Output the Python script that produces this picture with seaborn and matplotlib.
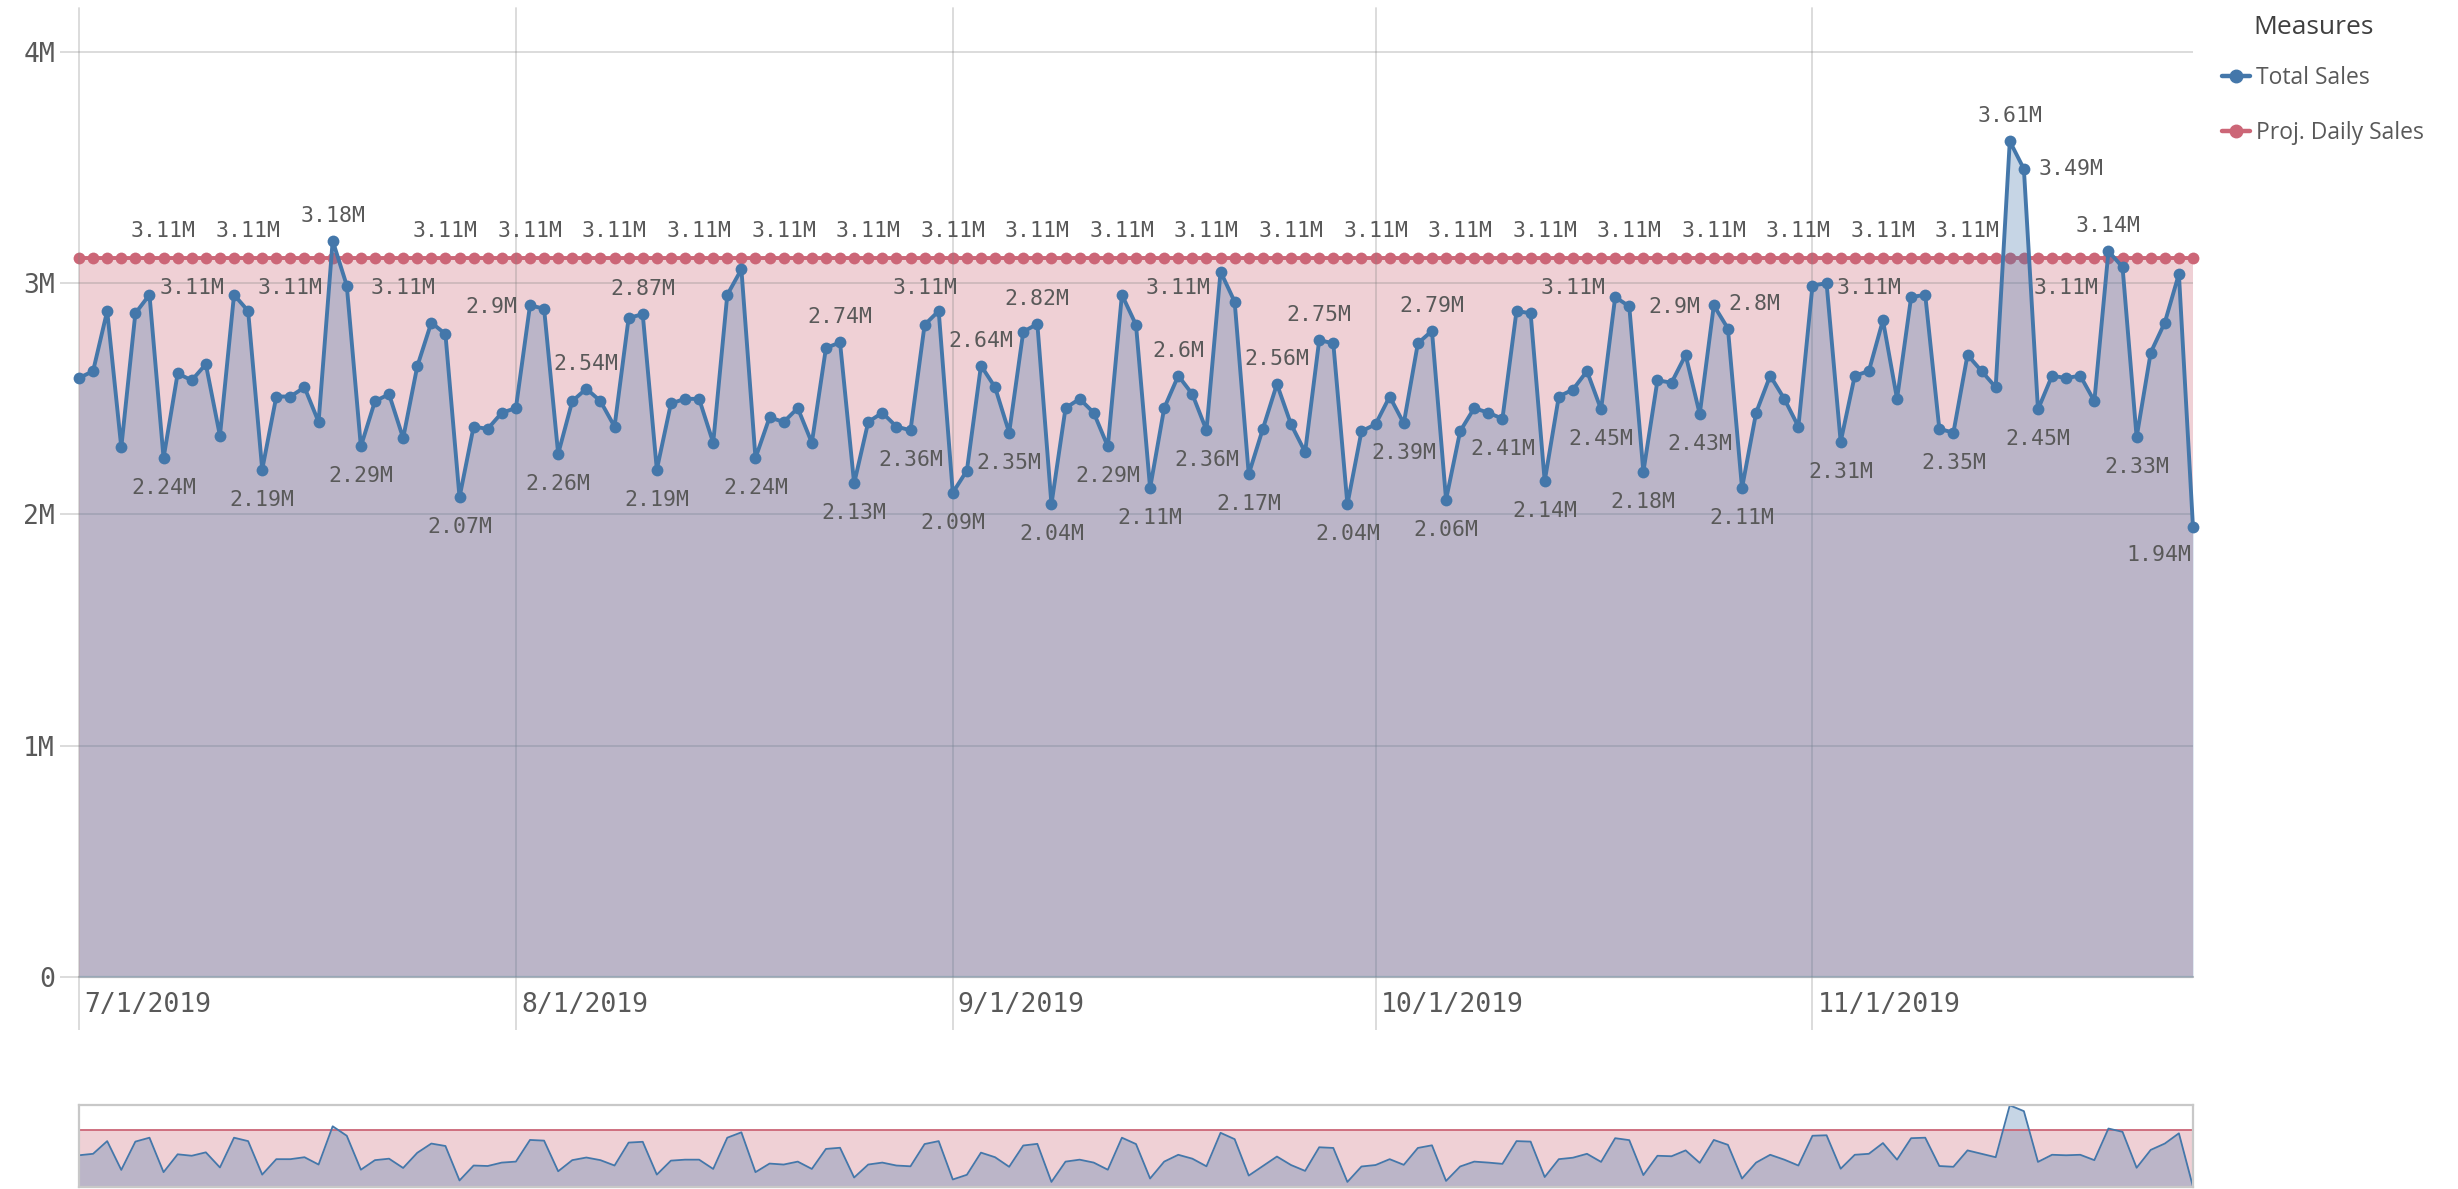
import numpy as np
import pandas as pd
import matplotlib
matplotlib.use("Agg")
import matplotlib.pyplot as plt
from matplotlib.lines import Line2D
from matplotlib.transforms import ScaledTranslation
import seaborn as sns

# ---- data (millions) ----
start_date = "2019-07-01"
total_sales = [
    2.59, 2.62, 2.88, 2.29, 2.87, 2.95, 2.244, 2.61, 2.58, 2.65,
    2.34, 2.95, 2.88, 2.194, 2.51, 2.51, 2.55, 2.40, 3.184, 2.99,
    2.294, 2.49, 2.52, 2.33, 2.64, 2.83, 2.78, 2.074, 2.38, 2.37,
    2.44, 2.46, 2.904, 2.89, 2.262, 2.49, 2.544, 2.49, 2.38, 2.85,
    2.866, 2.194, 2.48, 2.50, 2.50, 2.31, 2.95, 3.06, 2.244, 2.42,
    2.40, 2.46, 2.31, 2.72, 2.744, 2.134, 2.40, 2.44, 2.38, 2.364,
    2.82, 2.88, 2.094, 2.19, 2.644, 2.55, 2.354, 2.79, 2.824, 2.044,
    2.46, 2.50, 2.44, 2.294, 2.95, 2.82, 2.114, 2.46, 2.60, 2.52,
    2.364, 3.05, 2.92, 2.174, 2.37, 2.564, 2.39, 2.27, 2.754, 2.74,
    2.044, 2.36, 2.39, 2.51, 2.394, 2.74, 2.794, 2.064, 2.36, 2.46,
    2.44, 2.414, 2.88, 2.87, 2.144, 2.51, 2.54, 2.62, 2.454, 2.94,
    2.90, 2.184, 2.58, 2.57, 2.69, 2.434, 2.904, 2.804, 2.114, 2.44,
    2.60, 2.50, 2.38, 2.99, 3.00, 2.314, 2.60, 2.62, 2.84, 2.50,
    2.94, 2.95, 2.37, 2.354, 2.69, 2.62, 2.55, 3.614, 3.494, 2.454,
    2.60, 2.59, 2.60, 2.49, 3.138, 3.07, 2.334, 2.70, 2.83, 3.04,
    1.944,
]
proj_daily_sales = [3.108] * len(total_sales)
month_ticks = ["2019-07-01", "2019-08-01", "2019-09-01", "2019-10-01", "2019-11-01"]
month_labels = ["7/1/2019", "8/1/2019", "9/1/2019", "10/1/2019", "11/1/2019"]
y_ticks = [0, 1, 2, 3, 4]
y_labels = ["0", "1M", "2M", "3M", "4M"]

dates = pd.date_range(start_date, periods=len(total_sales), freq="D")
df = pd.DataFrame({"Date": dates, "Total Sales": total_sales,
                   "Proj. Daily Sales": proj_daily_sales})
long = df.melt(id_vars="Date", var_name="Measures", value_name="Sales")

BLUE = "#4477AA"
RED = "#CC6677"
GRID = "#808080"
TXT = "#595959"

sns.set_theme(style="white")
plt.rcParams["font.family"] = ["DejaVu Sans Mono", "DejaVu Sans"]

W, H = 2458, 1189
fig = plt.figure(figsize=(W / 100, H / 100), dpi=100)
ax = fig.add_axes([79 / W, 1 - 977 / H, (2193 - 79) / W, (977 - 8) / H])

# fills
ax.fill_between(df["Date"], 0, df["Proj. Daily Sales"], color=RED, alpha=0.3, lw=0, zorder=1)
ax.fill_between(df["Date"], 0, df["Total Sales"], color=BLUE, alpha=0.3, lw=0, zorder=2.4)

sns.lineplot(data=long, x="Date", y="Sales", hue="Measures",
             palette={"Total Sales": BLUE, "Proj. Daily Sales": RED},
             estimator=None, errorbar=None, marker="o", markersize=8.5,
             markeredgewidth=0, linewidth=2.8, legend=False, ax=ax, clip_on=False)
ax.lines[0].set_zorder(3)
ax.lines[1].set_zorder(2)
ax.lines[1].set_markersize(8.5)

# grid
for v in y_ticks[1:]:
    ax.axhline(v, color=GRID, alpha=0.3, lw=1.3, zorder=2.2)
ax.axhline(0, color="#bdbdbd", lw=1.6, zorder=2.2, clip_on=False)
for d in pd.to_datetime(month_ticks):
    ax.axvline(d, color=GRID, alpha=0.3, lw=1.3, zorder=2.2, clip_on=False)

ax.set_xlim(dates[0], dates[-1])
ax.set_ylim(0, 4.19)
for s in ax.spines.values():
    s.set_visible(False)
ax.set_xlabel("")
ax.set_ylabel("")
ax.set_yticks(y_ticks)
ax.set_yticklabels(y_labels)
ax.set_xticks(pd.to_datetime(month_ticks))
ax.set_xticklabels(month_labels, ha="left")
ax.tick_params(axis="y", length=13.7, width=1.3, color="#d9d9d9", pad=3.6,
               labelsize=19, labelcolor=TXT, left=True)
ax.tick_params(axis="x", length=38, width=1.3, color="#d9d9d9", pad=-27,
               labelsize=19, labelcolor=TXT, bottom=True)
shift = ScaledTranslation(5 / 100, 0, fig.dpi_scale_trans)
for lab in ax.get_xticklabels():
    lab.set_transform(lab.get_transform() + shift)


def fmt(v):
    return f"{v:.2f}".rstrip("0").rstrip(".") + "M"


place = {
    "above": (0, 18, "center"),
    "below": (0, -21.6, "center"),
    "left": (-9.4, -1, "right"),
    "upright": (0, 18, "left"),
    "right": (10.8, 0, "left"),
    "belowleft": (-1.5, -20, "right"),
}
total_label_spec = [
    (6, "below"), (13, "below"), (18, "above"), (20, "below"), (27, "below"),
    (32, "left"), (34, "below"), (36, "above"), (40, "above"), (41, "below"),
    (48, "below"), (54, "above"), (55, "below"), (59, "below"), (62, "below"),
    (64, "above"), (66, "below"), (68, "above"), (69, "below"), (73, "below"),
    (76, "below"), (78, "above"), (80, "below"), (83, "below"), (85, "above"),
    (88, "above"), (90, "below"), (94, "below"), (96, "above"), (97, "below"),
    (101, "below"), (104, "below"), (108, "below"), (111, "below"), (115, "below"),
    (116, "left"), (117, "upright"), (118, "below"), (125, "below"), (133, "below"),
    (137, "above"), (138, "right"), (139, "below"), (144, "above"), (146, "below"),
    (150, "belowleft"),
]
proj_above = [6, 12, 26, 32, 38, 44, 50, 56, 62, 68, 74, 80, 86, 92, 98,
              104, 110, 116, 122, 128, 134]
proj_below = [8, 15, 23, 60, 78, 106, 127, 141]

label_kw = dict(textcoords="offset points", va="center", fontsize=15.5,
                color=TXT, zorder=5, annotation_clip=False)
for i, p in total_label_spec:
    dx, dy, ha = place[p]
    ax.annotate(fmt(total_sales[i]), (dates[i], total_sales[i]),
                xytext=(dx, dy), ha=ha, **label_kw)
for i in proj_above:
    ax.annotate(fmt(proj_daily_sales[i]), (dates[i], proj_daily_sales[i]),
                xytext=(0, 19.5), ha="center", **label_kw)
for i in proj_below:
    ax.annotate(fmt(proj_daily_sales[i]), (dates[i], proj_daily_sales[i]),
                xytext=(0, -21.6), ha="center", **label_kw)

# legend
fig.text(2253 / W, 1 - 28 / H, "Measures", fontsize=19, color="#404040",
         va="center", ha="left", family="Open Sans")
handles = [Line2D([], [], color=BLUE, marker="o", markersize=9, lw=3.2),
           Line2D([], [], color=RED, marker="o", markersize=9, lw=3.2)]
fig.legend(handles, ["Total Sales", "Proj. Daily Sales"], loc="upper left",
           bbox_to_anchor=(2222 / W, 1 - 66 / H), frameon=False,
           prop={"family": "Open Sans", "size": 16.5}, labelcolor=TXT,
           handlelength=1.2, handletextpad=0.3, labelspacing=1.35,
           borderaxespad=0, borderpad=0)

# navigator
nav = fig.add_axes([79 / W, 1 - 1187 / H, (2193 - 79) / W, (1187 - 1105) / H])
nav.fill_between(df["Date"], 0, df["Proj. Daily Sales"], color=RED, alpha=0.3, lw=0)
nav.fill_between(df["Date"], 0, df["Total Sales"], color=BLUE, alpha=0.3, lw=0)
sns.lineplot(data=long, x="Date", y="Sales", hue="Measures",
             palette={"Total Sales": BLUE, "Proj. Daily Sales": RED},
             estimator=None, errorbar=None, linewidth=1.3, legend=False, ax=nav)
nav.lines[1].set_zorder(1.5)
nav.set_xlim(dates[0], dates[-1])
nav.set_ylim(1.94, 3.62)
nav.set_xticks([])
nav.set_yticks([])
nav.set_xlabel("")
nav.set_ylabel("")
for s in nav.spines.values():
    s.set_visible(True)
    s.set_color("#c8c8c8")
    s.set_linewidth(1.6)

fig.savefig("out.png", dpi=100)
